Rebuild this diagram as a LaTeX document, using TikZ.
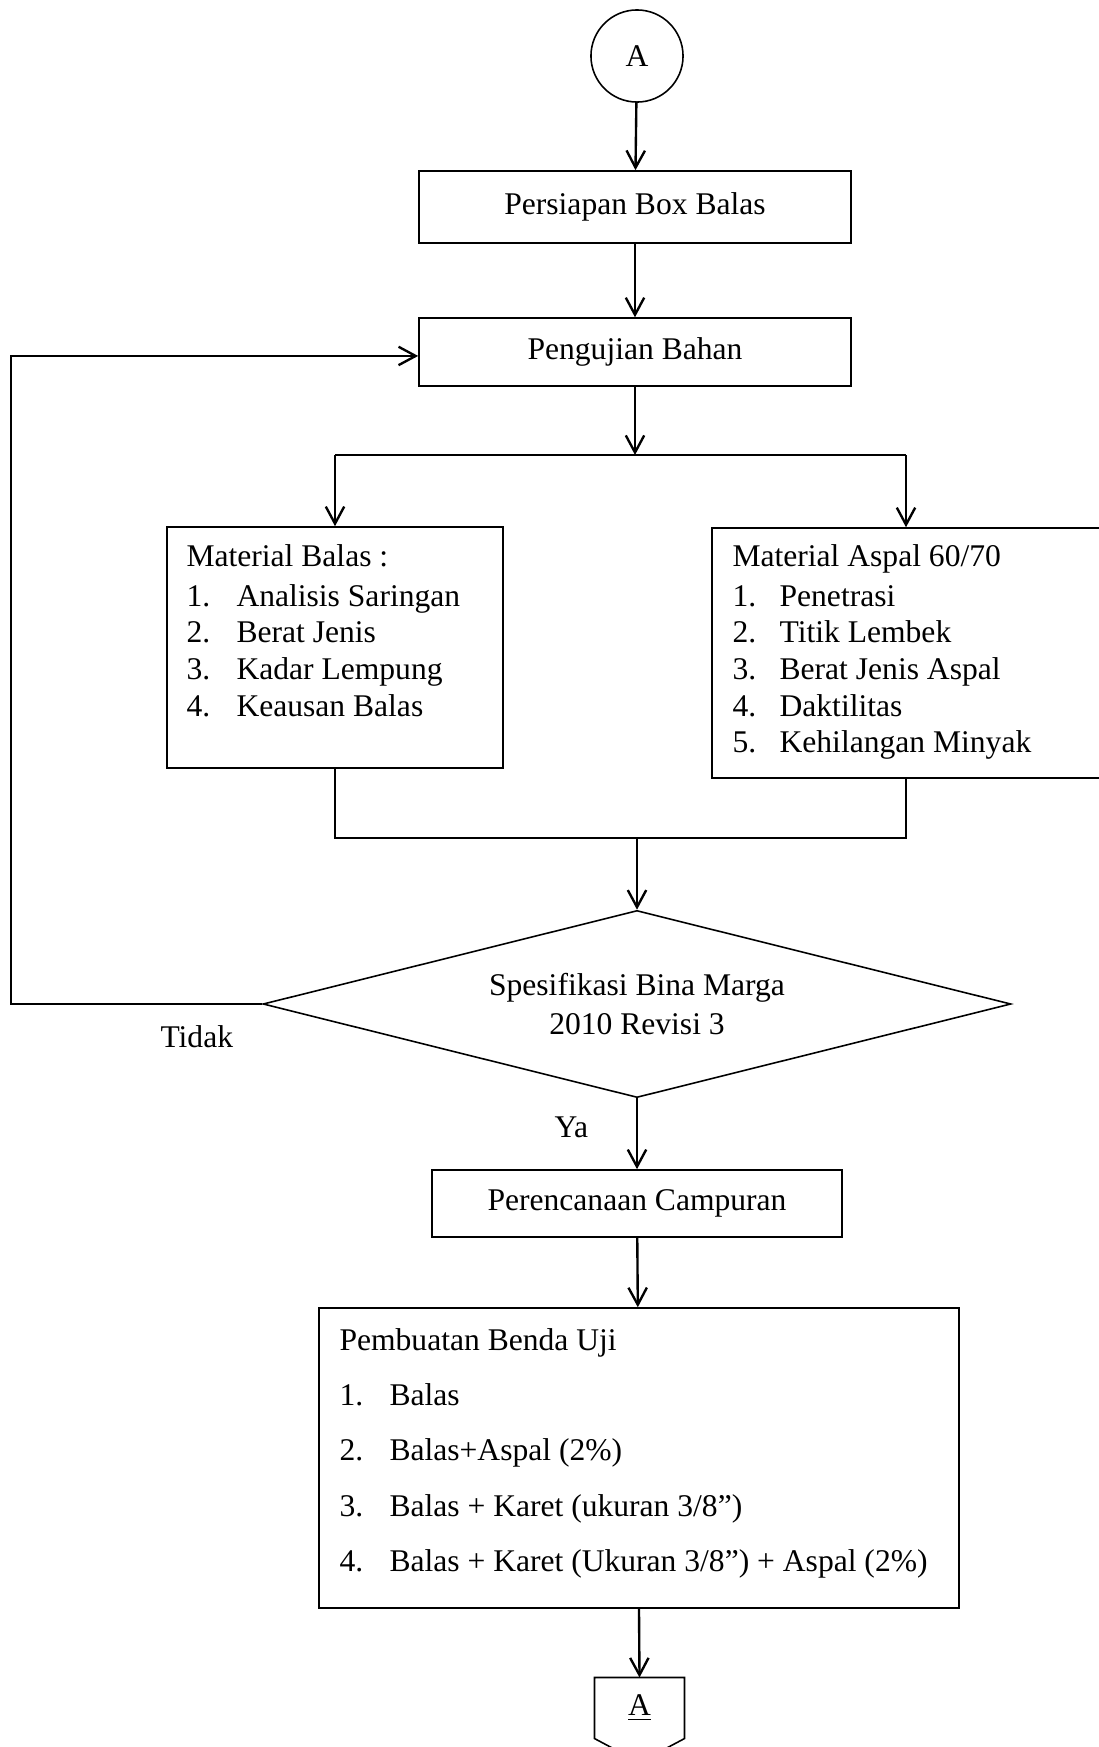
\documentclass[tikz,border=0pt]{standalone}
\usepackage{fontspec}
\setmainfont{Liberation Serif}
\usetikzlibrary{arrows.meta,shapes.geometric}

\begin{document}
\begin{tikzpicture}[x=0.38pt, y=-0.38pt, font=\fontsize{12}{14.8}\selectfont,
    kotak/.style={draw, line width=0.6pt, inner sep=0pt},
    isi/.style={anchor=base west, inner sep=0pt},
    panah/.style={-{Straight Barb[length=6.5pt,width=7pt]}, line width=0.9pt},
    garis/.style={line width=0.9pt}]
    \useasboundingbox (0,0) rectangle (1098,1747);

    \node[circle, kotak, minimum size=35pt] (mulai) at (637,56) {A};
    \node[kotak, minimum width=164.2pt, minimum height=27.4pt] (box) at (635,207) {Persiapan Box Balas};
    \node[kotak, minimum width=164.2pt, minimum height=25.8pt] (uji) at (635,352) {Pengujian Bahan};
    \node[kotak, minimum width=127.7pt, minimum height=91.6pt] (mb) at (335,647.5) {};
    \node[kotak, minimum width=147.4pt, minimum height=95pt] (ma) at (906,653) {};
    \node[diamond, kotak, aspect=4, minimum width=284.2pt, minimum height=71.1pt, align=center] (spek) at (637,1004) {Spesifikasi Bina Marga\\2010 Revisi 3};
    \node[kotak, minimum width=155.8pt, minimum height=25.5pt] (renc) at (637,1203.5) {Perencanaan Campuran};
    \node[kotak, minimum width=243.2pt, minimum height=114pt] (benda) at (639,1458) {};
    \node[minimum width=33.8pt, minimum height=22.8pt, inner sep=0pt] (ke) at (639.5,1708) {\underline{A}};
    \draw[line width=0.6pt] (ke.north west) -- (ke.north east) -- (ke.south east)
        -- ([yshift=-9.1pt]ke.south) -- (ke.south west) -- cycle;

    % material balas
    \node[isi] (mb0) at (186,566) {Material Balas :};
    \foreach \teks [count=\i] in {Analisis Saringan, Berat Jenis, Kadar Lempung, Keausan Balas}
        \node[isi] (mb\i) at (186,569.3+36.7*\i) {\makebox[19pt][l]{\i.}\teks};

    % material aspal
    \node[isi] (ma0) at (732,566) {Material Aspal 60/70};
    \foreach \teks [count=\i] in {Penetrasi, Titik Lembek, Berat Jenis Aspal, Daktilitas, Kehilangan Minyak}
        \node[isi] (ma\i) at (732,569.3+36.7*\i) {\makebox[17.9pt][l]{\i.}\teks};

    % benda uji
    \node[isi] (bu0) at (339,1350) {Pembuatan Benda Uji};
    \foreach \teks [count=\i] in {Balas, Balas+Aspal (2\%), Balas + Karet (ukuran 3/8”), Balas + Karet (Ukuran 3/8”) + Aspal (2\%)}
        \node[isi] (bu\i) at (339,1349.5+55.6*\i) {\makebox[19pt][l]{\i.}\teks};

    \node[isi] (tidak) at (160,1047) {Tidak};
    \node[isi] (ya) at (554,1137) {Ya};

    \coordinate (cab) at (635,455);
    \coordinate (gab) at (637,838);
    \coordinate (balik) at (11,1004);

    \draw[panah] (mulai) -- (box);
    \draw[panah] (box) -- (uji);
    \draw[panah] (uji) -- (cab);
    \draw[garis] (mb.north |- cab) -- (ma.north |- cab);
    \draw[panah] (mb.north |- cab) -- (mb.north);
    \draw[panah] (ma.north |- cab) -- (ma.north);
    \draw[garis] (mb.south) |- (gab) -| (ma.south);
    \draw[panah] (gab) -- (spek);
    \draw[panah] (spek.south) -- (renc);
    \draw[panah] (renc) -- (benda);
    \draw[panah] (benda.south) -- (ke.north);
    \draw[panah] (spek.west) -- (balik) |- ([yshift=-1.5pt]uji.west);
\end{tikzpicture}
\end{document}
